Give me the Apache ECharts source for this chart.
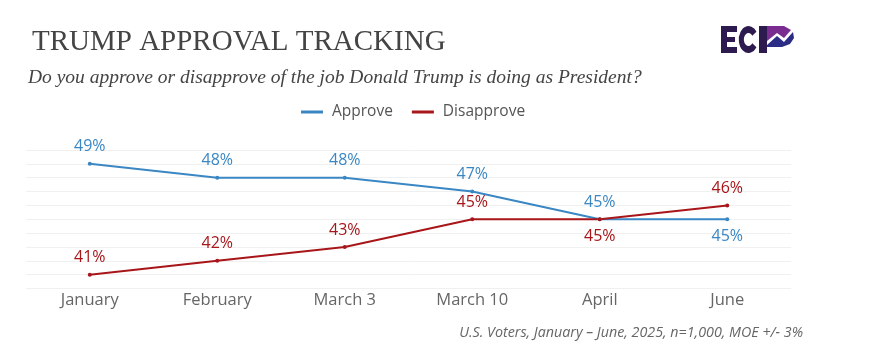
<!DOCTYPE html>
<html><head><meta charset="utf-8">
<script src="https://cdn.jsdelivr.net/npm/echarts@6/dist/echarts.min.js"></script>
<style>html,body{margin:0;padding:0;background:#fff}#c{width:885px;height:356px}</style>
</head><body><div id="c"></div>
<script>
const categories = ['January', 'February', 'March 3', 'March 10', 'April', 'June'];
const approve = [49, 48, 48, 47, 45, 45];
const disapprove = [41, 42, 43, 45, 45, 46];
const approveLabelPos = ['top', 'top', 'top', 'top', 'top', 'bottom'];
const disapproveLabelPos = ['top', 'top', 'top', 'top', 'bottom', 'top'];
const yTicks = [40, 41, 42, 43, 44, 45, 46, 47, 48, 49, 50];

const BLUE = '#3a87c4', RED = '#a8161a', DARK = '#2d1a4f';
const SANS = 'Open Sans';
const chart = echarts.init(document.getElementById('c'), null, {renderer: 'canvas'});

function mk(vals, pos) {
  return vals.map((v, i) => ({value: v, label: {position: pos[i]}}));
}

chart.setOption({
  animation: false,
  backgroundColor: '#fff',
  title: [
    {text: 'TRUMP APPROVAL TRACKING', left: 27, top: 23,
     textStyle: {fontFamily: 'Liberation Serif', fontWeight: 'normal', fontSize: 29, color: '#444'}},
    {text: 'Do you approve or disapprove of the job Donald Trump is doing as President?', left: 23, top: 63,
     textStyle: {fontFamily: 'Liberation Serif', fontStyle: 'italic', fontWeight: 'normal', fontSize: 19.5, color: '#444'}},
    {text: 'U.S. Voters, January – June, 2025, n=1,000, MOE +/- 3%', right: 77, top: 321,
     textStyle: {fontFamily: SANS, fontStyle: 'italic', fontWeight: 'normal', fontSize: 14.3, color: '#666'}}
  ],
  legend: {
    top: 99, left: 296, itemWidth: 22, itemHeight: 3, itemGap: 19,
    icon: 'rect',
    textStyle: {fontFamily: SANS, fontSize: 15.5, color: '#555', padding: [0, 0, 0, 4]},
    data: ['Approve', 'Disapprove']
  },
  grid: {left: 26, right: 94, top: 150, bottom: 67.5, containLabel: false},
  xAxis: {
    type: 'category', data: categories, boundaryGap: true,
    axisLine: {show: false}, axisTick: {show: false},
    axisLabel: {fontFamily: SANS, fontSize: 16.5, color: '#666', margin: 3}
  },
  yAxis: {
    type: 'value', min: yTicks[0], max: yTicks[yTicks.length - 1], interval: 1,
    axisLabel: {show: false}, axisLine: {show: false}, axisTick: {show: false},
    splitLine: {lineStyle: {color: '#f0f0f0', width: 1}}
  },
  series: [
    {name: 'Approve', type: 'line', data: mk(approve, approveLabelPos),
     color: BLUE, lineStyle: {width: 2, color: BLUE}, symbol: 'circle', symbolSize: 4,
     itemStyle: {color: BLUE},
     label: {show: true, formatter: '{c}%', color: BLUE, fontFamily: SANS, fontSize: 16, distance: 7}},
    {name: 'Disapprove', type: 'line', data: mk(disapprove, disapproveLabelPos),
     color: RED, lineStyle: {width: 2, color: RED}, symbol: 'circle', symbolSize: 4,
     itemStyle: {color: RED},
     label: {show: true, formatter: '{c}%', color: RED, fontFamily: SANS, fontSize: 16, distance: 7}}
  ],
  graphic: [
    // E
    {type: 'rect', shape: {x: 721, y: 26, width: 6, height: 27}, style: {fill: DARK}},
    {type: 'rect', shape: {x: 721, y: 26, width: 16, height: 6}, style: {fill: DARK}},
    {type: 'rect', shape: {x: 721, y: 37, width: 14, height: 5}, style: {fill: DARK}},
    {type: 'rect', shape: {x: 721, y: 47, width: 16, height: 6}, style: {fill: DARK}},
    // C
    {type: 'arc', x: 748.5, y: 39.5, scaleX: 0.72,
     shape: {cx: 0, cy: 0, r: 10, startAngle: 0.62, endAngle: Math.PI * 2 - 0.62, clockwise: true},
     style: {stroke: DARK, lineWidth: 7, fill: null}},
    // P
    {type: 'rect', shape: {x: 759, y: 26, width: 8, height: 27}, style: {fill: DARK}},
    {type: 'polygon', shape: {points: [[767, 26], [784, 26], [791, 30], [784, 38], [777, 33], [767, 41]]}, style: {fill: '#7a2c90'}},
    {type: 'polygon', shape: {points: [[767, 45], [777, 36], [784, 42], [793, 32], [794, 38], [790, 44], [782, 47], [767, 47]]}, style: {fill: '#2b2c85'}}
  ]
});
</script></body></html>
